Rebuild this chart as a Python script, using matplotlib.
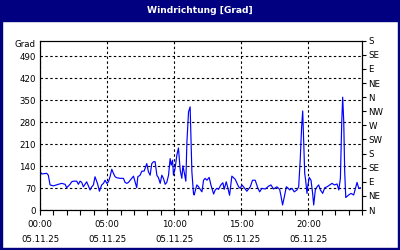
import matplotlib.pyplot as plt
from matplotlib.patches import Rectangle

# wind direction readings (hour of day, degrees)
hours = [0.00, 0.12, 0.50, 0.62, 0.75, 1.00, 1.37, 1.62, 1.87, 1.99, 2.24, 2.36, 2.49, 2.74, 2.86,
         2.99, 3.11, 3.23, 3.48, 3.73, 3.86, 3.98, 4.10, 4.28, 4.43, 4.60, 4.73, 4.85, 4.98, 5.10,
         5.22, 5.35, 5.47, 5.60, 5.72, 5.97, 6.22, 6.34, 6.47, 6.59, 6.72, 6.97, 7.21, 7.29, 7.46,
         7.59, 7.76, 7.96, 8.08, 8.21, 8.33, 8.46, 8.58, 8.71, 8.83, 8.96, 9.08, 9.20, 9.33, 9.45,
         9.58, 9.70, 9.78, 9.88, 9.95, 10.07, 10.20, 10.32, 10.45, 10.57, 10.65, 10.75, 10.87, 10.95,
         11.07, 11.19, 11.32, 11.44, 11.49, 11.69, 11.82, 11.89,
         12.07, 12.19, 12.31, 12.44, 12.61, 12.74, 12.94, 13.06, 13.19, 13.31, 13.48, 13.63, 13.73,
         13.88, 13.98, 14.13, 14.30, 14.55, 14.80, 14.93, 15.05, 15.17, 15.42, 15.67, 15.84, 16.04,
         16.22, 16.37, 16.54, 16.79, 17.04, 17.21, 17.41, 17.66, 17.86, 17.96, 18.08, 18.21, 18.36,
         18.46, 18.61, 18.78, 18.95, 19.15, 19.28, 19.40, 19.50, 19.58, 19.65, 19.73, 19.80, 19.90,
         19.97, 20.07, 20.20, 20.32, 20.40, 20.52, 20.65, 20.77, 20.90, 21.07, 21.22, 21.39, 21.59,
         21.77, 21.94, 22.14, 22.27, 22.39, 22.49, 22.56, 22.64, 22.71, 22.79, 23.01, 23.18, 23.38,
         23.51, 23.63, 23.76, 23.88]
grad = [124, 115, 117, 111, 80, 77, 82, 85, 82, 71, 82, 90, 92, 92, 82,
        92, 88, 74, 90, 64, 74, 80, 106, 85, 60, 80, 85, 95, 85, 90,
        106, 130, 117, 106, 103, 101, 101, 88, 85, 88, 95, 108, 71, 106, 111,
        124, 124, 148, 122, 111, 148, 154, 154, 111, 103, 85, 111, 101, 82, 88,
        111, 164, 143, 159, 111, 133, 175, 198, 127, 101, 141, 120, 92, 217,
        313, 329, 122, 53, 48, 80, 74, 69,
        58, 95, 101, 95, 104, 80, 51, 64, 69, 66, 80, 87, 66,
        90, 74, 47, 108, 98, 74, 69, 80, 74, 60, 74, 95, 95,
        72, 58, 69, 67, 76, 80, 67, 74, 66, 45, 16, 42, 74,
        71, 64, 69, 58, 64, 74, 164, 265, 316, 223, 117, 95, 53,
        80, 104, 95, 53, 16, 64, 74, 80, 64, 53, 71, 74, 80,
        85, 80, 83, 64, 101, 281, 360, 281, 122, 40, 48, 53, 48,
        69, 88, 69, 71]

left_ticks = [0, 70, 140, 210, 280, 350, 420, 490]
right_ticks = [0, 45, 90, 135, 180, 225, 270, 315, 360, 405, 450, 495, 540]
right_labels = ['N', 'NE', 'E', 'SE', 'S', 'SW', 'W', 'NW', 'N', 'NE', 'E', 'SE', 'S']
x_ticks = [0, 5, 10, 15, 20]
x_labels = ['00:00\n05.11.25', '05:00\n05.11.25', '10:00\n05.11.25',
            '15:00\n05.11.25', '20:00\n05.11.25']

navy = '#000080'
fs = 6.2

fig = plt.figure(figsize=(4, 2.5), dpi=100, facecolor='white')

# frame and title bar
fig.add_artist(Rectangle((0, 0.916), 1, 0.084, transform=fig.transFigure, color=navy, zorder=0))
fig.add_artist(Rectangle((0, 0), 0.005, 1, transform=fig.transFigure, color=navy, zorder=0))
fig.add_artist(Rectangle((0.995, 0), 0.005, 1, transform=fig.transFigure, color=navy, zorder=0))
fig.add_artist(Rectangle((0, 0), 1, 0.008, transform=fig.transFigure, color=navy, zorder=0))
fig.text(0.5, 0.958, 'Windrichtung [Grad]', color='white', fontsize=6.6,
         fontweight='bold', ha='center', va='center')

ax = fig.add_axes([0.1, 0.16, 0.805, 0.677])
ax.plot(hours, grad, color='#0000FF', lw=0.85)
ax.set_xlim(0, 24)
ax.set_ylim(0, 540)

ax.set_yticks(left_ticks)
ax.set_yticklabels([str(t) for t in left_ticks], fontsize=fs)
ax.tick_params(axis='y', length=0, pad=3)
ax.set_xticks(x_ticks)
ax.set_xticklabels(x_labels, fontsize=fs, linespacing=1.8)
ax.set_xticks(range(25), minor=True)
ax.tick_params(axis='x', which='both', direction='out', length=3.5, width=0.8, pad=4)
ax.grid(True, color='black', linestyle=(0, (2.2, 2.2)), linewidth=0.8)
for s in ax.spines.values():
    s.set_linewidth(0.8)
ax.annotate('Grad', xy=(0, 0.975), xycoords='axes fraction', xytext=(-3, 0),
            textcoords='offset points', ha='right', va='center', fontsize=fs)

ax2 = ax.twinx()
ax2.set_ylim(0, 540)
ax2.set_yticks(right_ticks)
ax2.set_yticklabels(right_labels, fontsize=fs)
ax2.tick_params(axis='y', direction='out', length=3, width=0.8, pad=1.5)

fig.savefig('out.png', dpi=100, facecolor='white')
